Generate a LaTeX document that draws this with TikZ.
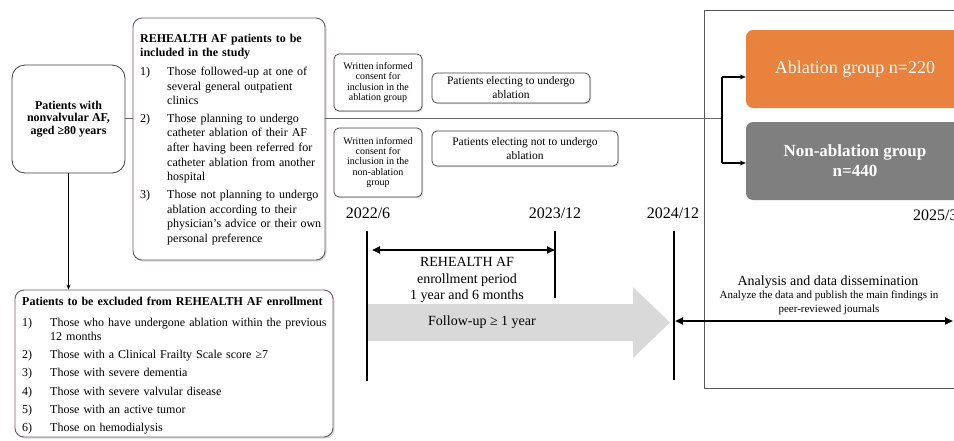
\documentclass[tikz,border=0pt]{standalone}
\usepackage{fontspec}
\setmainfont{Liberation Serif}
\usetikzlibrary{arrows.meta,shadows}
\definecolor{ablc}{HTML}{E8823C}
\definecolor{nonc}{HTML}{7F7F7F}
\definecolor{purpline}{HTML}{6E5A6A}
\definecolor{darkline}{HTML}{404040}
\definecolor{fuc}{HTML}{D9D9D9}
\newcommand{\fsz}[2]{\fontsize{#1}{#2}\selectfont}
\newcommand{\incitem}[3]{\par\vspace{#3}\hangindent=27pt\hangafter=1\noindent\makebox[27pt][l]{#1}#2}
\newcommand{\excitem}[3]{\par\vspace{#3}\hangindent=28pt\hangafter=1\noindent\makebox[28pt][l]{#1}#2}
\begin{document}
\begin{tikzpicture}[x=1pt,y=-1pt,
  every node/.style={inner sep=0pt},
  bigbox/.style={draw=purpline, line width=0.9pt, fill=white, rounded corners=9pt,
    drop shadow={shadow xshift=1.6pt,shadow yshift=-1.6pt,fill=black!30}},
  patbox/.style={draw=darkline, line width=0.8pt, fill=white, rounded corners=13pt},
  smallbox/.style={draw=darkline, line width=0.7pt, fill=white, rounded corners=5pt,
    drop shadow={shadow xshift=1.2pt,shadow yshift=-1.2pt,fill=black!30}},
  grpbox/.style={rounded corners=7pt, text=white, align=center},
  conn/.style={draw=black!60, line width=0.7pt},
  tl/.style={draw=black, line width=1.1pt},
  barrow/.style={line width=1.1pt, -{Stealth[length=6pt,width=5pt]}},
  darrow/.style={line width=2pt, {Triangle[length=8pt,width=7pt]}-{Triangle[length=8pt,width=7pt]}},
  datetxt/.style={font=\fsz{16}{18}}
]
\useasboundingbox (0,0) rectangle (954,440);

% outer box and groups
\node[draw=black!65, line width=0.7pt, minimum width=266pt, minimum height=378pt] (outer) at (837,199) {};
\node[grpbox, fill=ablc, minimum width=218pt, minimum height=78pt, font=\fsz{18}{20}] (abl) at (855,69) {Ablation group n=220};
\node[grpbox, fill=nonc, minimum width=218pt, minimum height=78pt, font=\bfseries\fsz{17}{20}] (non) at (855,161) {Non-ablation group\\n=440};

% patients box
\node[patbox, minimum width=113pt, minimum height=108pt, align=center, font=\bfseries\fsz{12}{12.5}] (pat) at (68.5,119) {Patients with\\nonvalvular AF,\\aged ≥80 years};

% inclusion box
\node[bigbox, minimum width=192pt, minimum height=242pt] (inc) at (229,139) {};
\node[anchor=base west, text width=190pt, align=left, font=\fsz{12}{14.7}] (inctxt) at (140,42)
{\textbf{REHEALTH AF patients to be\\included in the study}
\incitem{1)}{Those followed-up at one of\newline several general outpatient\newline clinics}{4pt}
\incitem{2)}{Those planning to undergo\newline catheter ablation of their AF\newline after having been referred for\newline catheter ablation from another\newline hospital}{2.5pt}
\incitem{3)}{Those not planning to undergo\newline ablation according to their\newline physician's advice or their own\newline personal preference}{3pt}\par};

% exclusion box
\node[bigbox, minimum width=318pt, minimum height=147pt] (exc) at (174,363.5) {};
\node[anchor=base west, text width=312pt, align=left, font=\fsz{12}{14}] (exctxt) at (22,305)
{\textbf{Patients to be excluded from REHEALTH AF enrollment}
\excitem{1)}{Those who have undergone ablation within the previous\newline 12 months}{7pt}
\excitem{2)}{Those with a Clinical Frailty Scale score ≥7}{4.5pt}
\excitem{3)}{Those with severe dementia}{4pt}
\excitem{4)}{Those with severe valvular disease}{4.5pt}
\excitem{5)}{Those with an active tumor}{4.5pt}
\excitem{6)}{Those on hemodialysis}{4pt}\par};

% consent and electing boxes
\node[smallbox, minimum width=88pt, minimum height=57pt, align=center, font=\fsz{10}{10.3}] (con1) at (378,82.5) {Written informed\\consent for\\inclusion in the\\ablation group};
\node[smallbox, minimum width=88pt, minimum height=69pt, align=center, font=\fsz{10}{10.3}] (con2) at (378,162.5) {Written informed\\consent for\\inclusion in the\\non-ablation\\group};
\node[smallbox, minimum width=158pt, minimum height=30pt, align=center, font=\fsz{11.5}{14}] (ele1) at (511,88) {Patients electing to undergo\\ablation};
\node[smallbox, minimum width=186pt, minimum height=35pt, align=center, font=\fsz{11.5}{14}] (ele2) at (525,148.5) {Patients electing not to undergo\\ablation};

% connectors
\coordinate (split) at (722,118);
\coordinate (b1) at (722,77);
\coordinate (b2) at (722,163);
\draw[conn] (pat.east |- 0,118) -- (inc.west |- 0,118);
\draw[conn] (inc.east |- split) -- (split);
\draw[line width=1.1pt] (b1) -- (b2);
\draw[barrow] (b1) -- (abl.west |- b1);
\draw[barrow] (b2) -- (non.west |- b2);
\draw[line width=0.8pt, -{Stealth[length=5pt,width=4pt]}] (pat.south) -- (exc.north -| pat.south);

% follow-up arrow
\fill[fuc] (367,304) -- (633,304) -- (633,287) -- (670,322.5) -- (633,358) -- (633,341) -- (367,341) -- cycle;
\node[font=\fsz{14}{16}] (fu) at (482,322) {Follow-up ≥ 1 year};

% timeline
\coordinate (t1a) at (367,231); \coordinate (t1b) at (367,381);
\coordinate (t2a) at (555,231); \coordinate (t2b) at (555,298);
\coordinate (t3a) at (674,231); \coordinate (t3b) at (674,380);
\draw[tl] (t1a) -- (t1b);
\draw[tl] (t2a) -- (t2b);
\draw[tl] (t3a) -- (t3b);
\node[datetxt] (d1) at (368,213) {2022/6};
\node[datetxt] (d2) at (555,213) {2023/12};
\node[datetxt] (d3) at (673,213) {2024/12};
\node[datetxt, anchor=west] (d4) at (913,215) {2025/3};

\coordinate (e1) at (372,250); \coordinate (e2) at (555,250);
\draw[darrow] (e1) -- (e2);
\node[align=center, font=\fsz{14}{16.5}] (enr) at (467,280) {REHEALTH AF\\enrollment period\\1 year and 6 months};

\coordinate (a1) at (675,321); \coordinate (a2) at (953,321);
\draw[darrow] (a1) -- (a2);
\node[font=\fsz{14}{16}] (ana) at (828,282) {Analysis and data dissemination};
\node[align=center, font=\fsz{11}{13.5}] (ana2) at (829,303) {Analyze the data and publish the main findings in\\peer-reviewed journals};
\end{tikzpicture}
\end{document}
